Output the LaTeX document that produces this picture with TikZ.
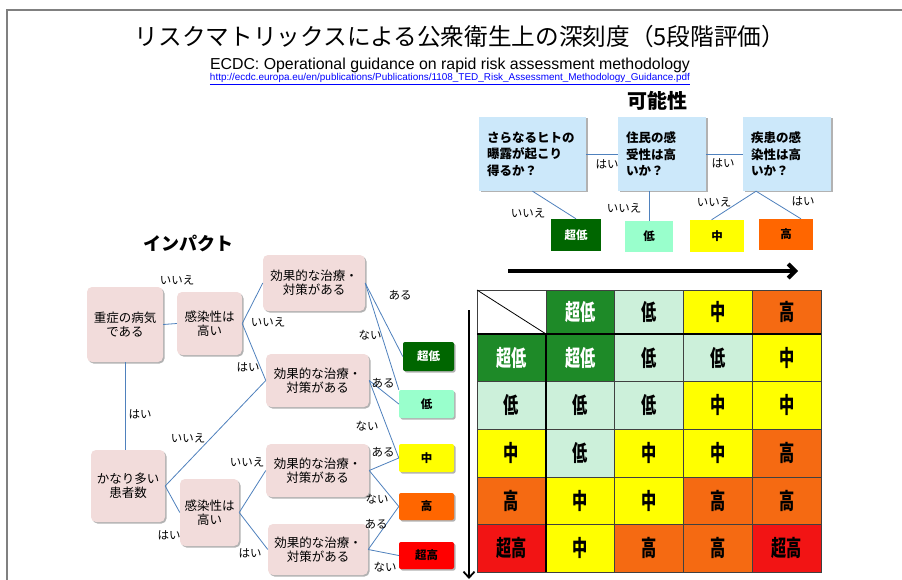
\documentclass[tikz,border=0pt]{standalone}
\usepackage{fontspec}
\usepackage{graphicx}
\setmainfont{Noto Sans CJK JP}
\newfontfamily\latin{Liberation Sans}
\usetikzlibrary{arrows.meta,shadows,calc}
\definecolor{pinkc}{HTML}{F2DCDB}
\definecolor{bluec}{HTML}{CCE8FA}
\definecolor{linec}{HTML}{4F81BD}
\definecolor{dgreen}{HTML}{006600}
\definecolor{mintc}{HTML}{99FFCC}
\definecolor{yelc}{HTML}{FFFF00}
\definecolor{orgc}{HTML}{FF6600}
\definecolor{redc}{HTML}{FF0000}
\definecolor{mdg}{HTML}{1E8A28}
\definecolor{mmint}{HTML}{CCF0DA}
\definecolor{morg}{HTML}{F56A12}
\definecolor{mred}{HTML}{F21414}
\definecolor{framec}{HTML}{808080}
\definecolor{gridc}{HTML}{404040}
\newcommand{\mt}[1]{\scalebox{0.95}[1.4]{#1}}
\begin{document}
\begin{tikzpicture}[x=1pt,y=-1pt,
  shad/.style={drop shadow={shadow xshift=1.5pt,shadow yshift=-1.5pt,opacity=0.3,fill=black}},
  pinkbox/.style={fill=pinkc,rounded corners=5pt,shad,align=center,inner sep=0pt,font=\fontsize{12.5}{14}\selectfont},
  bluebox/.style={fill=bluec,shad,align=left,inner sep=0pt,font=\bfseries\fontsize{12.5}{16.5}\selectfont},
  resbox/.style={rounded corners=2pt,shad,inner sep=0pt,font=\bfseries\fontsize{11.5}{12}\selectfont},
  topres/.style={inner sep=0pt,font=\bfseries\fontsize{11.5}{12}\selectfont},
  conn/.style={draw=linec,line width=0.8pt},
  lbl/.style={inner sep=0pt,font=\fontsize{11.5}{12}\selectfont},
  mtext/.style={inner sep=0pt,font=\bfseries\fontsize{16}{16}\selectfont},
]
\useasboundingbox (0,0) rectangle (902,580);
\fill[white] (0,0) rectangle (902,580);
% frame
\draw[framec,line width=1.5pt] (7,580) -- (7,10) -- (902,10);

% titles
\node[inner sep=0pt] (title) at (460,37) {\resizebox{650pt}{!}{リスクマトリックスによる公衆衛生上の深刻度（5段階評価）}};
\node[inner sep=0pt] (sub) at (450,65) {\latin\resizebox{480pt}{11.5pt}{ECDC: Operational guidance on rapid risk assessment methodology}};
\node[inner sep=0pt,text=blue] (url) at (450,79) {\latin\resizebox{480pt}{!}{\underline{http://ecdc.europa.eu/en/publications/Publications/1108\_TED\_Risk\_Assessment\_Methodology\_Guidance.pdf}}};

\node[inner sep=0pt,font=\bfseries\fontsize{20}{20}\selectfont] (kanou) at (657,101) {可能性};
\node[inner sep=0pt,font=\bfseries\fontsize{18}{18}\selectfont] (impact) at (188,243) {インパクト};

% likelihood boxes
\node[bluebox,minimum width=107pt,minimum height=74pt,text width=91pt] (L1) at (532.5,154) {さらなるヒトの\\曝露が起こり\\得るか？};
\node[bluebox,minimum width=88pt,minimum height=74pt,text width=72pt] (L2) at (662,154) {住民の感\\受性は高\\いか？};
\node[bluebox,minimum width=88pt,minimum height=74pt,text width=72pt] (L3) at (787,154) {疾患の感\\染性は高\\いか？};

\node[topres,fill=dgreen,text=white,minimum width=50pt,minimum height=32pt] (T1) at (576,235) {超低};
\node[topres,fill=mintc,minimum width=48pt,minimum height=31pt] (T2) at (649,236.5) {低};
\node[topres,fill=yelc,minimum width=54pt,minimum height=32pt] (T3) at (717,236) {中};
\node[topres,fill=orgc,minimum width=54pt,minimum height=31pt] (T4) at (786,234.5) {高};

\draw[conn] (L1.east) -- (L2.west);
\draw[conn] (L2.east) -- (L3.west);
\draw[conn] (L1.south) -- (T1.north);
\draw[conn] (T2.north |- L2.south) -- (T2.north);
\coordinate (l3b) at ($(L3.south west)!0.15!(L3.south east)$);
\draw[conn] (l3b) -- ($(T3.north)!0.2!(T3.north west)$);
\draw[conn] (l3b) -- ($(T4.north)!0.55!(T4.north east)$);

\node[lbl] (lh1) at (607,164) {はい};
\node[lbl] (lh2) at (723,163) {はい};
\node[lbl] (ln1) at (528,213) {いいえ};
\node[lbl] (ln2) at (624,208) {いいえ};
\node[lbl] (ln3) at (714,202) {いいえ};
\node[lbl] (lh3) at (803,201) {はい};

% impact tree
\node[pinkbox,minimum width=76pt,minimum height=75pt] (A) at (125,324.5) {重症の病気\\である};
\node[pinkbox,minimum width=65pt,minimum height=63pt] (B) at (209.5,323.5) {感染性は\\高い};
\node[pinkbox,minimum width=102pt,minimum height=56pt] (C1) at (314,283) {効果的な治療・\\対策がある};
\node[pinkbox,minimum width=103pt,minimum height=53pt] (C2) at (317.5,380.5) {効果的な治療・\\対策がある};
\node[pinkbox,minimum width=74pt,minimum height=72pt] (D) at (128,486) {かなり多い\\患者数};
\node[pinkbox,minimum width=59pt,minimum height=67pt] (E) at (209.5,512.5) {感染性は\\高い};
\node[pinkbox,minimum width=103pt,minimum height=53pt] (C3) at (317.5,470.5) {効果的な治療・\\対策がある};
\node[pinkbox,minimum width=100pt,minimum height=51pt] (C4) at (318,549.5) {効果的な治療・\\対策がある};

\node[resbox,fill=dgreen,text=white,minimum width=51pt,minimum height=29pt] (R1) at (428.5,356.5) {超低};
\node[resbox,fill=mintc,minimum width=55pt,minimum height=28pt] (R2) at (426.5,404) {低};
\node[resbox,fill=yelc,minimum width=55pt,minimum height=28pt] (R3) at (426.5,458) {中};
\node[resbox,fill=orgc,minimum width=55pt,minimum height=27pt] (R4) at (426.5,506.5) {高};
\node[resbox,fill=redc,minimum width=55pt,minimum height=27pt] (R5) at (426.5,555.5) {超高};

\draw[conn] (A.east) -- (B.west);
\draw[conn] (A.south) -- (A.south |- D.north);
\draw[conn] (B.east) -- (C1.west);
\draw[conn] (B.east) -- (C2.west);
\draw[conn] (D.east) -- (C2.west);
\draw[conn] (D.east) -- (E.west);
\draw[conn] (E.east) -- (C3.west);
\draw[conn] (E.east) -- (C4.west);
\draw[conn] (C1.east) -- (R1.west);
\draw[conn] (C1.east) -- (R2.north west);
\draw[conn] (C2.east) -- (R2.west);
\draw[conn] (C2.east) -- (R3.west);
\draw[conn] (C3.east) -- (R3.west);
\draw[conn] (C3.east) -- (R4.west);
\draw[conn] (C4.east) -- (R4.west);
\draw[conn] (C4.east) -- (R5.west);

\node[lbl] (i1) at (177,280) {いいえ};
\node[lbl] (i2) at (268,322) {いいえ};
\node[lbl] (i3) at (248,367) {はい};
\node[lbl] (i4) at (400,295) {ある};
\node[lbl] (i5) at (370,335) {ない};
\node[lbl] (i6) at (383,383) {ある};
\node[lbl] (i7) at (367,426) {ない};
\node[lbl] (i8) at (383,452) {ある};
\node[lbl] (i9) at (377,499) {ない};
\node[lbl] (i10) at (376,524) {ある};
\node[lbl] (i11) at (385,567) {ない};
\node[lbl] (i12) at (140,414) {はい};
\node[lbl] (i13) at (188,438) {いいえ};
\node[lbl] (i14) at (169,535) {はい};
\node[lbl] (i15) at (247,462) {いいえ};
\node[lbl] (i16) at (250,553) {はい};

% matrix
\foreach \c/\r/\fc/\tc/\t in {
  1/0/mdg/white/超低, 2/0/mmint/black/低, 3/0/yelc/black/中, 4/0/morg/black/高,
  0/1/mdg/white/超低, 1/1/mdg/white/超低, 2/1/mmint/black/低, 3/1/mmint/black/低, 4/1/yelc/black/中,
  0/2/mmint/black/低, 1/2/mmint/black/低, 2/2/mmint/black/低, 3/2/yelc/black/中, 4/2/yelc/black/中,
  0/3/yelc/black/中, 1/3/mmint/black/低, 2/3/yelc/black/中, 3/3/yelc/black/中, 4/3/morg/black/高,
  0/4/morg/black/高, 1/4/yelc/black/中, 2/4/yelc/black/中, 3/4/morg/black/高, 4/4/morg/black/高,
  0/5/mred/black/超高, 1/5/yelc/black/中, 2/5/morg/black/高, 3/5/morg/black/高, 4/5/mred/black/超高} {
  \pgfmathsetmacro\xa{477+68.8*\c}
  \pgfmathsetmacro\xb{477+68.8*(\c+1)}
  \pgfmathsetmacro\ya{\r==0 ? 290 : 334+47.6*(\r-1)}
  \pgfmathsetmacro\yb{334+47.6*\r}
  \fill[\fc] (\xa,\ya) rectangle (\xb,\yb);
  \node[mtext,text=\tc] (m\c-\r) at ({(\xa+\xb)/2},{(\ya+\yb)/2}) {\mt{\t}};
}
\foreach \c in {2,3,4} \draw[gridc,line width=0.6pt] ({477+68.8*\c},290) -- ({477+68.8*\c},572);
\draw[gridc,line width=0.6pt] (546,290) -- (546,334);
\foreach \r in {1,2,3,4} \draw[gridc,line width=0.6pt] (477,{334+47.6*\r}) -- (821,{334+47.6*\r});
\draw[gridc,line width=0.6pt] (477,290) rectangle (821,572);
\draw[black,line width=0.8pt] (477,290) -- (546,334);
\draw[black,line width=2.5pt] (477,334) -- (821,334);
\draw[black,line width=2pt] (546,334) -- (546,572);

% arrows
\coordinate (ha) at (508,271);
\coordinate (hb) at (798,271);
\draw[black,line width=4pt,-{Straight Barb[length=7pt,width=14pt]}] (ha) -- (hb);
\coordinate (va) at (469,310);
\coordinate (vb) at (469,579);
\draw[black,line width=1.8pt,-{Straight Barb[length=6pt,width=11pt]}] (va) -- (vb);
\end{tikzpicture}
\end{document}
